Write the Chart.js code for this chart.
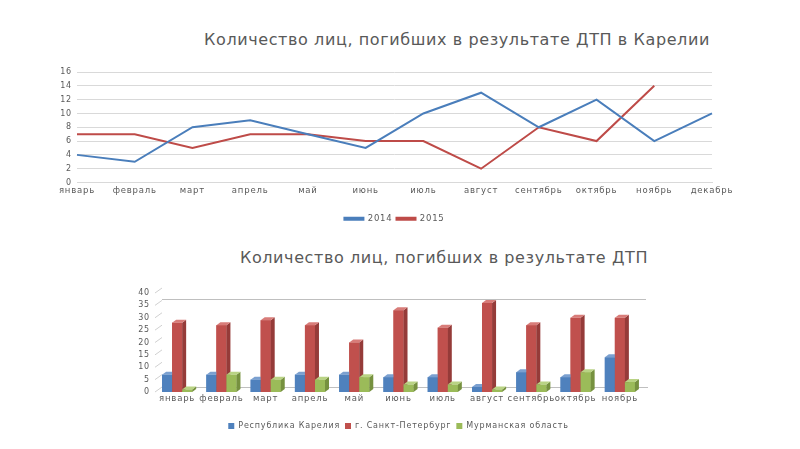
<!DOCTYPE html>
<html>
<head>
<meta charset="utf-8">
<script src="https://cdn.jsdelivr.net/npm/chart.js@4.4.0/dist/chart.umd.min.js"></script>
<style>
  body { margin: 0; background: #fff; width: 800px; height: 449px; position: relative; overflow: hidden; font-family: "DejaVu Sans"; }
  .title { position: absolute; width: 600px; text-align: center; color: #595959; font-size: 16px; white-space: nowrap; letter-spacing: 0.6px; }
  #t1 { left: 157px; top: 30px; }
  #t2 { left: 144px; top: 248px; }
  #w1 { position: absolute; left: 0; top: 55px; width: 760px; height: 178px; }
  #w2 { position: absolute; left: 0; top: 270px; width: 760px; height: 170px; }
</style>
</head>
<body>
<div class="title" id="t1">Количество лиц, погибших в результате ДТП в Карелии</div>
<div class="title" id="t2">Количество лиц, погибших в результате ДТП</div>
<div id="w1"><canvas id="lineChart"></canvas></div>
<div id="w2"><canvas id="barChart"></canvas></div>
<script>
// данные верхнего графика (Карелия)
const months = ['январь', 'февраль', 'март', 'апрель', 'май', 'июнь', 'июль', 'август', 'сентябрь', 'октябрь', 'ноябрь', 'декабрь'];
const deaths2014 = [4, 3, 8, 9, 7, 5, 10, 13, 8, 12, 6, 10];
const deaths2015 = [7, 7, 5, 7, 7, 6, 6, 2, 8, 6, 14];

// данные нижнего графика (по регионам)
const barMonths = ['январь', 'февраль', 'март', 'апрель', 'май', 'июнь', 'июль', 'август', 'сентябрь', 'октябрь', 'ноябрь'];
const karelia = [7, 7, 5, 7, 7, 6, 6, 2, 8, 6, 14];
const spb = [28, 27, 29, 27, 20, 33, 26, 36, 27, 30, 30];
const murmansk = [1, 7, 5, 5, 6, 3, 3, 1, 3, 8, 4];

const grey = '#595959';
Chart.defaults.font.family = 'DejaVu Sans';
Chart.defaults.color = grey;

// разрядка букв, как в исходной картинке
const spacing = {
  id: 'spacing',
  beforeUpdate(chart) { chart.ctx.letterSpacing = '0.8px'; },
  beforeDraw(chart) { chart.ctx.letterSpacing = '0.8px'; }
};

new Chart(document.getElementById('lineChart'), {
  type: 'line',
  data: {
    labels: months,
    datasets: [
      { label: '2014', data: deaths2014, borderColor: '#4a7ebb', backgroundColor: '#4a7ebb', borderWidth: 2, pointRadius: 0, tension: 0 },
      { label: '2015', data: deaths2015, borderColor: '#be4b48', backgroundColor: '#be4b48', borderWidth: 2, pointRadius: 0, tension: 0 }
    ]
  },
  options: {
    responsive: true,
    maintainAspectRatio: false,
    animation: false,
    layout: { padding: { top: 17, right: 48, left: 0, bottom: 0 } },
    scales: {
      x: {
        grid: { display: false, drawTicks: false },
        border: { color: '#d9d9d9' },
        ticks: { font: { size: 8.5 }, padding: 3, autoSkip: false, maxRotation: 0 },
        afterFit(scale) { scale.height = 28; }
      },
      y: {
        min: 0, max: 16,
        ticks: { stepSize: 2, font: { size: 8 }, padding: 5, autoSkip: false },
        grid: { color: '#d9d9d9', drawTicks: false },
        border: { display: false },
        afterFit(scale) { scale.width = 77; }
      }
    },
    plugins: {
      legend: {
        position: 'bottom',
        fullSize: false,
        labels: { boxWidth: 19, boxHeight: 2, font: { size: 8.5 }, padding: 4 }
      },
      tooltip: { enabled: false }
    }
  },
  plugins: [spacing]
});

// цвета граней объёмных столбцов
const faces = [
  { side: '#3a6595', top: '#7ba0d0' },
  { side: '#953b39', top: '#d87c79' },
  { side: '#76913f', top: '#b9d384' }
];
const depth = { dx: 4, dy: 3 };

const bar3d = {
  id: 'bar3d',
  beforeDatasetsDraw(chart) {
    const ctx = chart.ctx;
    const a = chart.chartArea;
    const y = chart.scales.y;
    ctx.save();
    ctx.strokeStyle = '#bfbfbf';
    ctx.lineWidth = 1;
    // пол и верх стенки
    const floor = Math.round(y.getPixelForValue(0) - 5) + 0.5;
    const top = Math.round(y.getPixelForValue(40) + 6) + 0.5;
    ctx.beginPath();
    ctx.moveTo(a.left + 7, floor); ctx.lineTo(a.right + 6, floor);
    ctx.moveTo(a.left + 7, top); ctx.lineTo(a.right + 4, top);
    ctx.stroke();
    // косые засечки у подписей оси
    ctx.strokeStyle = '#d0d0d0';
    y.ticks.forEach(t => {
      const py = y.getPixelForValue(t.value);
      ctx.beginPath();
      ctx.moveTo(a.left, py);
      ctx.lineTo(a.left + 7, py - 5);
      ctx.stroke();
    });
    ctx.restore();
  },
  // перерисовываем столбцы слева направо, чтобы грани перекрывались правильно
  afterDatasetsDraw(chart) {
    const ctx = chart.ctx;
    const { dx, dy } = depth;
    ctx.save();
    chart.data.datasets.forEach((ds, i) => {
      const f = faces[i];
      chart.getDatasetMeta(i).data.forEach(bar => {
        bar.draw(ctx);
        const p = bar.getProps(['x', 'y', 'base', 'width'], true);
        const l = p.x - p.width / 2, r = p.x + p.width / 2;
        ctx.fillStyle = f.side;
        ctx.beginPath();
        ctx.moveTo(r, p.y); ctx.lineTo(r + dx, p.y - dy); ctx.lineTo(r + dx, p.base - dy); ctx.lineTo(r, p.base);
        ctx.closePath(); ctx.fill();
        ctx.fillStyle = f.top;
        ctx.beginPath();
        ctx.moveTo(l, p.y); ctx.lineTo(l + dx, p.y - dy); ctx.lineTo(r + dx, p.y - dy); ctx.lineTo(r, p.y);
        ctx.closePath(); ctx.fill();
      });
    });
    ctx.restore();
  }
};

new Chart(document.getElementById('barChart'), {
  type: 'bar',
  data: {
    labels: barMonths,
    datasets: [
      { label: 'Республика Карелия', data: karelia, backgroundColor: '#4f81bd' },
      { label: 'г. Санкт-Петербург', data: spb, backgroundColor: '#c0504d' },
      { label: 'Мурманская область', data: murmansk, backgroundColor: '#9bbb59' }
    ]
  },
  options: {
    responsive: true,
    maintainAspectRatio: false,
    animation: false,
    categoryPercentage: 0.68,
    barPercentage: 1.0,
    layout: { padding: { top: 23, right: 118, left: 0, bottom: 0 } },
    scales: {
      x: {
        grid: { display: false, drawTicks: false },
        border: { display: false },
        ticks: { font: { size: 8.5 }, padding: 2, autoSkip: false, maxRotation: 0 },
        afterFit(scale) { scale.height = 25; }
      },
      y: {
        min: 0, max: 40,
        ticks: { stepSize: 5, font: { size: 8 }, padding: 5, autoSkip: false },
        grid: { display: false, drawTicks: false },
        border: { display: false },
        afterFit(scale) { scale.width = 155; }
      }
    },
    plugins: {
      legend: {
        position: 'bottom',
        fullSize: false,
        labels: { boxWidth: 6, boxHeight: 6, font: { size: 8 }, padding: 5 }
      },
      tooltip: { enabled: false }
    }
  },
  plugins: [bar3d, spacing]
});
</script>
</body>
</html>
